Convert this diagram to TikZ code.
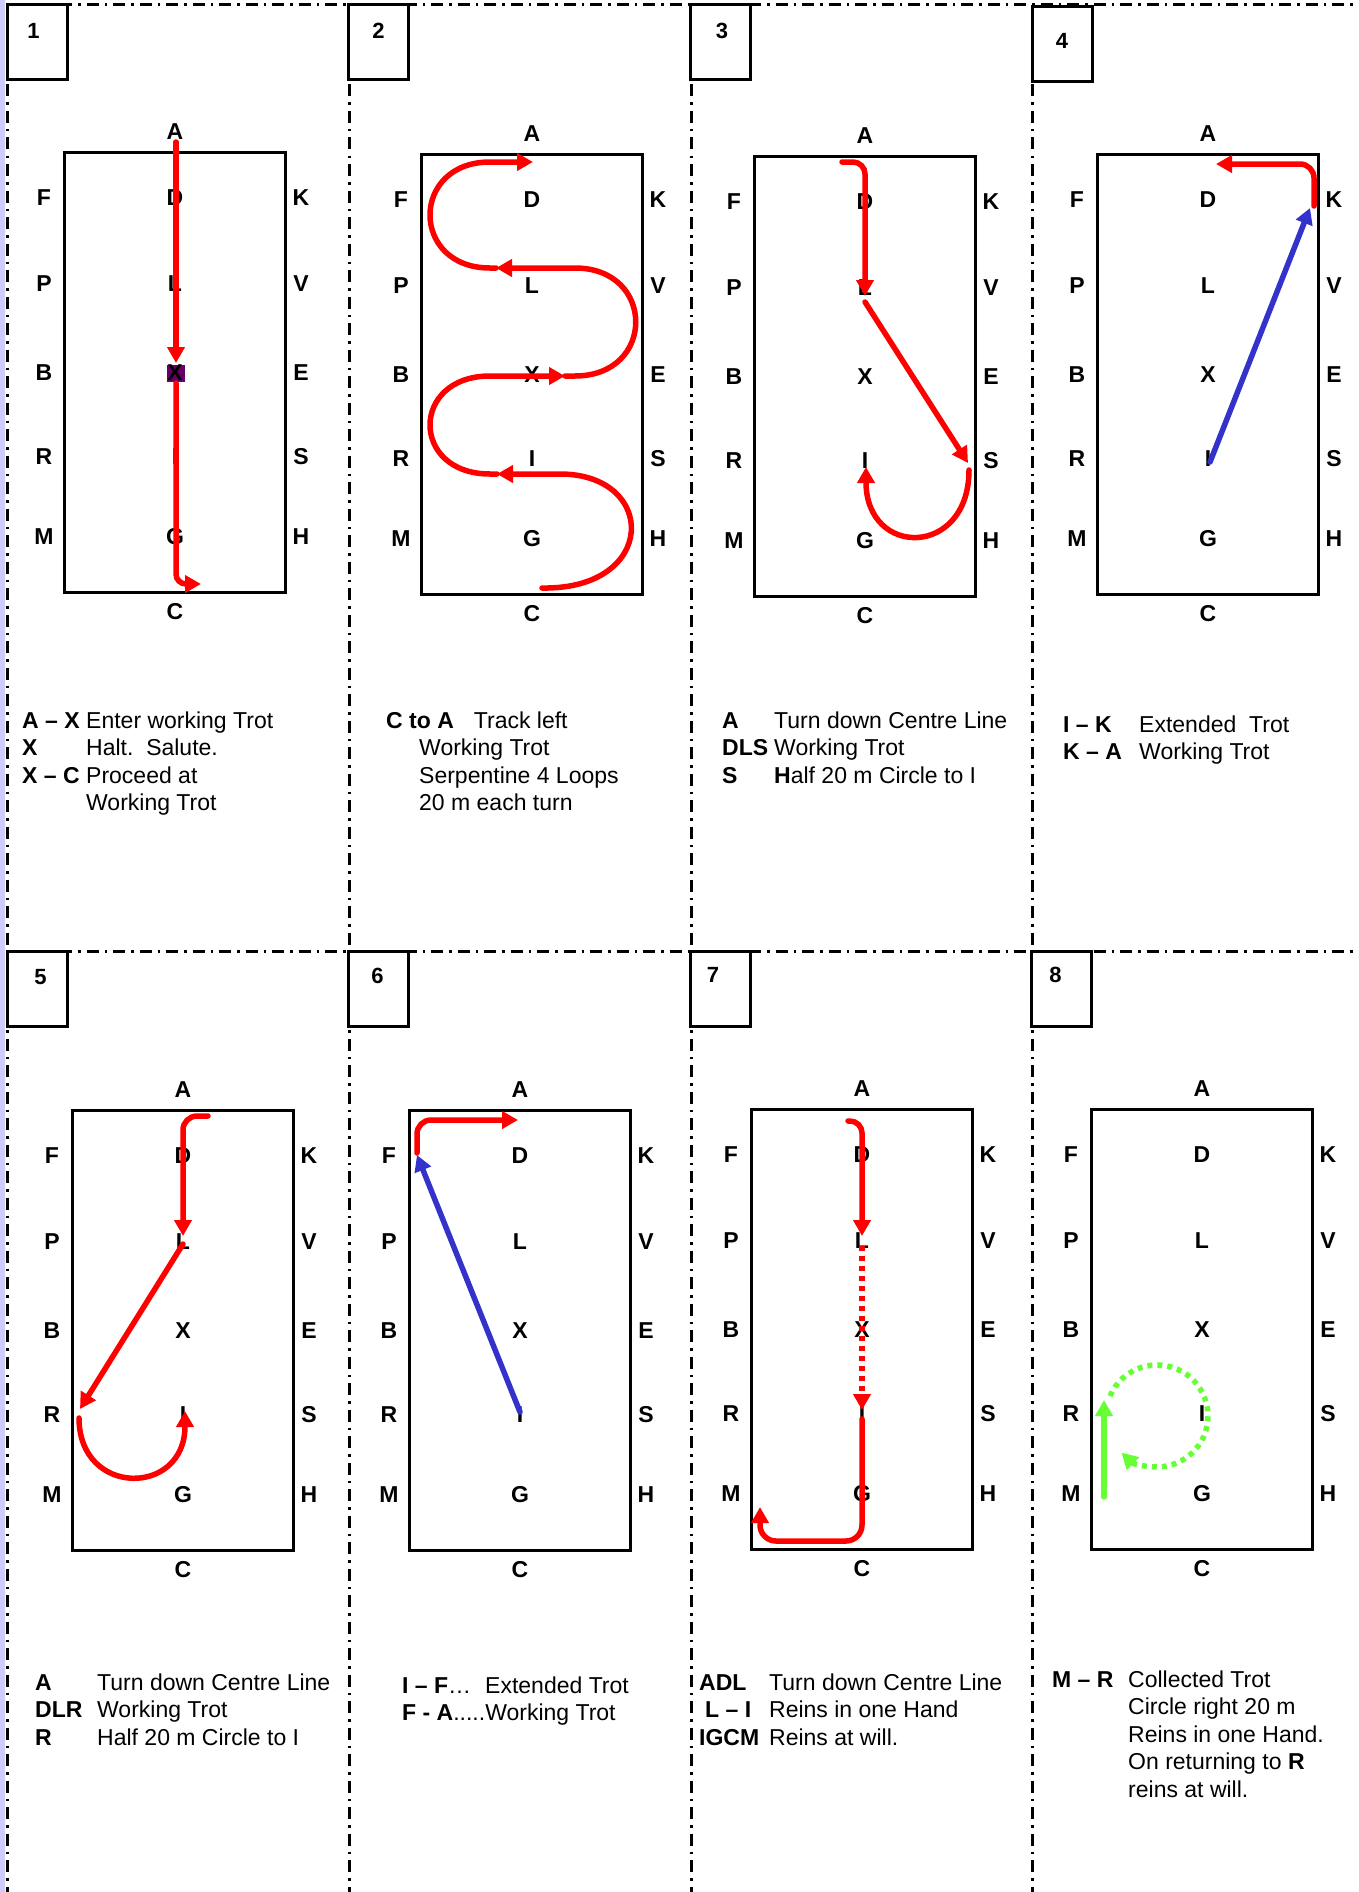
\documentclass[tikz,border=0pt]{standalone}
\usepackage{fontspec}
\setmainfont{Liberation Sans}
\usetikzlibrary{arrows.meta}
\definecolor{trackred}{RGB}{255,0,0}
\definecolor{trackblue}{RGB}{51,51,204}
\definecolor{trackgreen}{RGB}{102,255,51}
\definecolor{haltpurple}{RGB}{102,0,102}
\definecolor{sidebar}{RGB}{204,204,255}

\newcommand{\arena}[3]{%
  \begin{scope}[shift={(#2,#3)}]
    \draw[ring] (0,0) rectangle (221,-440);
    \node[letter] (#1A) at (111,20) {A};
    \node[letter] (#1C) at (111,-460) {C};
    \foreach \west/\ctr/\east/\y in {F/D/K/-46,P/L/V/-132,B/X/E/-221,R/I/S/-305,M/G/H/-385} {
      \node[letter] (#1\west) at (-20,\y) {\west};
      \node[letter] (#1\ctr) at (111,\y) {\ctr};
      \node[letter] (#1\east) at (237,\y) {\east};
    }
  \end{scope}}

\begin{document}
\begin{tikzpicture}[
  x=1pt, y=1pt,
  letter/.style={font=\fontsize{23}{27}\selectfont\bfseries, inner sep=0pt},
  ring/.style={draw=black, line width=3pt},
  sep/.style={line width=3pt, dash pattern=on 12pt off 6pt on 2.5pt off 6pt},
  numbox/.style={draw, line width=3pt, fill=white, minimum width=60pt, minimum height=75pt, inner sep=0pt},
  numtext/.style={font=\fontsize{22}{26}\selectfont\bfseries, inner sep=0pt},
  route/.style={draw=trackred, line width=5.5pt, line cap=round, -{Triangle[length=16pt,width=17pt]}},
  dotroute/.style={route, line cap=butt, dash pattern=on 5pt off 5pt},
  blueroute/.style={route, draw=trackblue},
  greenroute/.style={route, draw=trackgreen},
  greendots/.style={greenroute, line cap=butt, dash pattern=on 5pt off 5pt},
  note/.style={font=\fontsize{23}{27.5}\selectfont, anchor=base west, inner sep=0pt}
]
\useasboundingbox (0,0) rectangle (1359,-1892);
\fill[sidebar] (0,0) rectangle (5,-1892);
\draw[sep] (7,-5) -- (1359,-5);
\draw[sep] (7,-951) -- (1359,-951);
\foreach \x in {7,349,691,1032} \draw[sep] (\x,-5) -- (\x,-1892);

\foreach \n/\x/\y/\dx/\dy in {1/37.5/-42.5/-4/12, 2/378.5/-42.5/0/12, 3/720/-42.5/2/12, 4/1062/-44.5/0/4,
                              5/37.5/-989/3/12, 6/378.5/-989/-1/13, 7/720/-989/-7/14, 8/1061.5/-989/-6/14} {
  \node[numbox] (box\n) at (\x,\y) {};
  \node[numtext] (num\n) at ([xshift=\dx,yshift=\dy]box\n.center) {\n};
}

\node[fill=haltpurple, minimum width=18pt, minimum height=17pt, inner sep=0pt] (halt) at (176,-373) {};

\arena{p1}{64}{-152}
\arena{p2}{421}{-154}
\arena{p3}{754}{-156}
\arena{p4}{1097}{-154}
\arena{p5}{72}{-1110}
\arena{p6}{409}{-1110}
\arena{p7}{751}{-1109}
\arena{p8}{1091}{-1109}

\draw[route] ([xshift=1,yshift=-10]p1A.center) -- ([xshift=1,yshift=10]p1X.center);
\draw[route, rounded corners=10] ([xshift=1,yshift=-10]p1X.center) |- ([xshift=26,yshift=28]p1C.center);

\draw[route] (542,-588) .. controls (658,-590) and (658,-474) .. (560,-474) -- (497,-474);
\draw[route] (497,-474) -- (490,-474) .. controls (410,-474) and (410,-376) .. (490,-376) -- (565,-376);
\draw[route] (565,-376) -- (575,-376) .. controls (656,-376) and (656,-268) .. (575,-268) -- (496,-268);
\draw[route] (496,-268) -- (490,-268) .. controls (410,-268) and (410,-162) .. (490,-162) -- (533,-162);

\draw[route, rounded corners=12] (842,-162) -| ([yshift=-8]p3L.center);
\draw[route] ([yshift=-14]p3L.center) -- ([xshift=-23,yshift=-2]p3S.center);
\draw[route] (969,-470) .. controls (969,-558) and (866,-558) .. ([xshift=1,yshift=-6]p3I.center);

\draw[blueroute] ([xshift=2,yshift=-3]p4I.center) -- ([xshift=-24,yshift=-8]p4K.center);
\draw[route, rounded corners=14] (1314,-206) |- (1216,-164);

\draw[route, rounded corners=14] (208,-1116) -| ([yshift=6]p5L.center);
\draw[route] ([yshift=-2]p5L.center) -- ([xshift=28,yshift=6]p5R.center);
\draw[route] (79,-1418) .. controls (79,-1497) and (185,-1497) .. ([xshift=2,yshift=4]p5I.center);

\draw[blueroute] ([yshift=3]p6I.center) -- ([xshift=28,yshift=1]p6F.center);
\draw[route, rounded corners=14] (417,-1153) |- (518,-1120);

\draw[route, rounded corners=12] (848,-1121) -| ([yshift=5]p7L.center);
\draw[dotroute] ([yshift=-5]p7L.center) -- ([yshift=4]p7I.center);
\draw[route, rounded corners=16] ([yshift=-5]p7I.center) |- (760,-1541) -- (760,-1507);

\draw[greenroute] ([xshift=33,yshift=-3]p8M.center) -- ([xshift=33,yshift=14]p8R.center);
\draw[greendots] (1110,-1396) arc[start angle=157, end angle=-134, radius=51];

\node[note] (text1) at (22,-728) {\begin{tabular}[t]{@{}p{64pt}@{}l@{}}
\textbf{A – X} & Enter working Trot\\
\textbf{X} & Halt.\ \ Salute.\\
\textbf{X – C} & Proceed at\\
 & Working Trot
\end{tabular}};
\node[note] (text2) at (386,-728) {\begin{tabular}[t]{@{}l@{}}
\textbf{C to A}\hspace{20pt}Track left\\
\hspace{33pt}Working Trot\\
\hspace{33pt}Serpentine 4 Loops\\
\hspace{33pt}20 m each turn
\end{tabular}};
\node[note] (text3) at (722,-728) {\begin{tabular}[t]{@{}p{52pt}@{}l@{}}
\textbf{A} & Turn down Centre Line\\
\textbf{DLS} & Working Trot\\
\textbf{S} & \textbf{H}alf 20 m Circle to I
\end{tabular}};
\node[note] (text4) at (1063,-732) {\begin{tabular}[t]{@{}p{76pt}@{}l@{}}
\textbf{I – K} & Extended\ \ Trot\\
\textbf{K – A} & Working Trot
\end{tabular}};
\node[note] (text5) at (35,-1690) {\begin{tabular}[t]{@{}p{62pt}@{}l@{}}
\textbf{A} & Turn down Centre Line\\
\textbf{DLR} & Working Trot\\
\textbf{R} & Half 20 m Circle to I
\end{tabular}};
\node[note] (text6) at (402,-1693) {\begin{tabular}[t]{@{}l@{}}
\textbf{I – F}…\hspace{14pt}Extended Trot\\
\textbf{F - A}.....Working Trot
\end{tabular}};
\node[note] (text7) at (699,-1690) {\begin{tabular}[t]{@{}p{70pt}@{}l@{}}
\textbf{ADL} & Turn down Centre Line\\
\hspace*{6pt}\textbf{L – I} & Reins in one Hand\\
\textbf{IGCM} & Reins at will.
\end{tabular}};
\node[note] (text8) at (1052,-1687) {\begin{tabular}[t]{@{}p{76pt}@{}l@{}}
\textbf{M – R} & Collected Trot\\
 & Circle right 20 m\\
 & Reins in one Hand.\\
 & On returning to \textbf{R}\\
 & reins at will.
\end{tabular}};
\end{tikzpicture}
\end{document}
